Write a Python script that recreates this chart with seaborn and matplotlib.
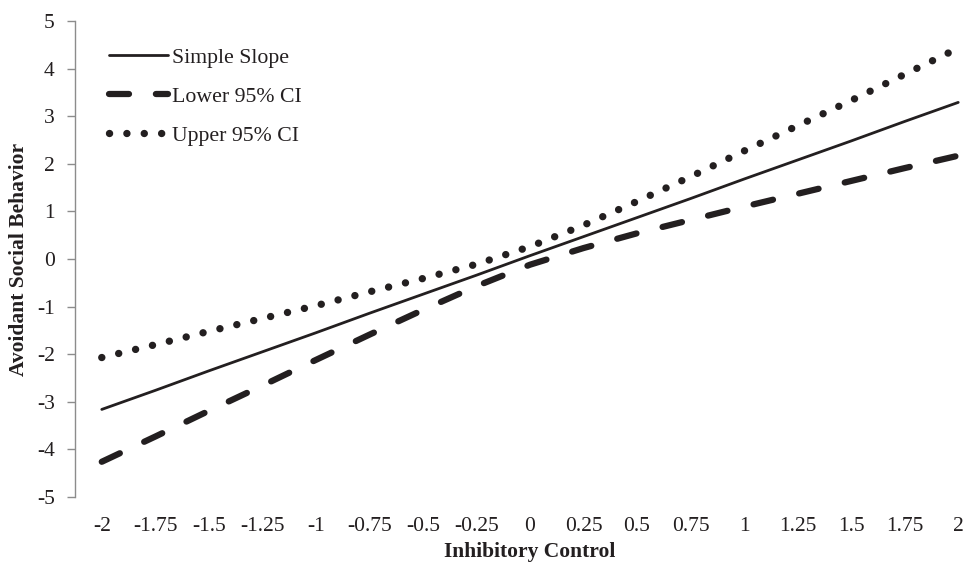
import pandas as pd
import matplotlib
matplotlib.use("Agg")
import matplotlib.pyplot as plt
import seaborn as sns

# Values
inhibitory = [-2, -1.75, -1.5, -1.25, -1, -0.75, -0.5, -0.25, 0,
              0.25, 0.5, 0.75, 1, 1.25, 1.5, 1.75, 2]
tick_labels = ["-2", "-1.75", "-1.5", "-1.25", "-1", "-0.75", "-0.5", "-0.25", "0",
               "0.25", "0.5", "0.75", "1", "1.25", "1.5", "1.75", "2"]
simple_slope = [-3.16, -2.76, -2.35, -1.95, -1.55, -1.14, -0.74, -0.34, 0.07,
                0.47, 0.87, 1.27, 1.68, 2.08, 2.48, 2.89, 3.29]
lower_ci = [-4.26, -3.73, -3.19, -2.66, -2.12, -1.59, -1.07, -0.57, -0.12,
            0.23, 0.54, 0.82, 1.10, 1.37, 1.64, 1.91, 2.17]
upper_ci = [-2.07, -1.80, -1.52, -1.25, -0.98, -0.69, -0.41, -0.11, 0.26,
            0.71, 1.21, 1.73, 2.27, 2.80, 3.33, 3.88, 4.43]

INK = "#231f20"

sns.set_style("white")
plt.rcParams["font.family"] = ["Liberation Serif", "DejaVu Serif"]
plt.rcParams["axes.unicode_minus"] = False

df = pd.DataFrame({"x": inhibitory, "simple": simple_slope,
                   "lower": lower_ci, "upper": upper_ci})

fig = plt.figure(figsize=(9.64, 5.65), dpi=100)
ax = fig.add_axes([75 / 964, 68 / 565, 910 / 964, 476 / 565])

sns.lineplot(data=df, x="x", y="simple", ax=ax, color=INK, lw=2.0,
             label="Simple Slope")
sns.lineplot(data=df, x="x", y="lower", ax=ax, color=INK, lw=4.5,
             linestyle=(0, (3.2, 4.3)), dash_capstyle="round",
             label="Lower 95% CI")
sns.lineplot(data=df, x="x", y="upper", ax=ax, color=INK, lw=5.3,
             linestyle=(0, (0.01, 2.35)), dash_capstyle="round",
             label="Upper 95% CI")

ax.set_xlim(-2.125, 2.125)
ax.set_ylim(-5, 5)
ax.set_xticks(inhibitory)
ax.set_xticklabels(tick_labels)
ax.set_yticks(range(-5, 6))

for side in ["top", "right", "bottom"]:
    ax.spines[side].set_visible(False)
ax.spines["left"].set_color("#8c8c8c")
ax.spines["left"].set_linewidth(1.0)

ax.tick_params(axis="x", length=0, pad=14.5, labelsize=15.5, labelcolor=INK)
ax.tick_params(axis="y", left=True, length=5.5, width=1.0, color="#8c8c8c",
               pad=9, labelsize=15.5, labelcolor=INK)

ax.set_xlabel("Inhibitory Control", fontsize=15.5, fontweight="bold",
              color=INK, labelpad=4)
ax.set_ylabel("Avoidant Social Behavior", fontsize=15.5, fontweight="bold",
              color=INK, labelpad=6)

leg = ax.legend(loc="upper left", bbox_to_anchor=(0.016, 0.985), frameon=False,
                fontsize=15.7, handlelength=2.7, handletextpad=0.2,
                labelspacing=0.85, labelcolor=INK)

fig.savefig("out.png", dpi=100)
